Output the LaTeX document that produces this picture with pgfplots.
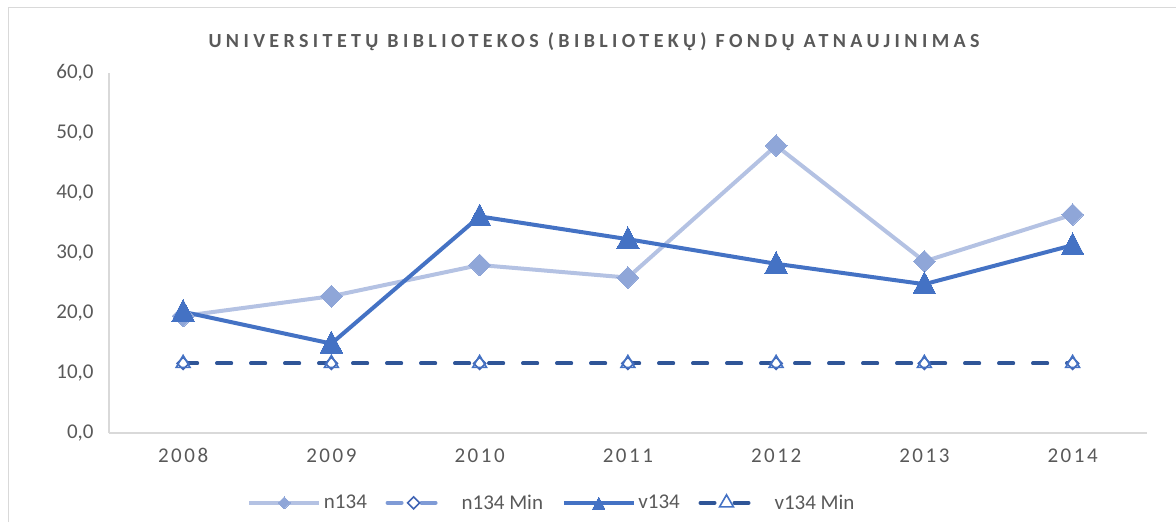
\documentclass[border=0pt]{standalone}
\usepackage{pgfplots}
\pgfplotsset{compat=1.18}
\usepackage{fontspec}
\setmainfont{Carlito}
\definecolor{nline}{HTML}{B4C2E3}
\definecolor{nmark}{HTML}{8FA6D8}
\definecolor{vblue}{HTML}{4472C4}
\definecolor{nmin}{HTML}{7F9BD6}
\definecolor{nminmark}{HTML}{4064B4}
\definecolor{vmin}{HTML}{2F5597}
\definecolor{txt}{HTML}{595959}
\definecolor{axl}{HTML}{D9D9D9}
\pgfplotsset{
  solidleg/.style={legend image code/.code={\draw[mark repeat=2,mark phase=2,##1, every mark/.append style={scale=0.55}] plot coordinates {(0pt,0pt) (26.25pt,0pt) (52.5pt,0pt)};}},
  dashleg/.style={legend image code/.code={\draw[mark repeat=2,mark phase=2,##1] plot coordinates {(0pt,0pt) (19.5pt,0pt) (39pt,0pt)};}},
}
\begin{document}
\begin{tikzpicture}[x=0.75pt,y=0.75pt]
\useasboundingbox (0,0) rectangle (1176,522);
\draw[axl, line width=0.75pt] (8,0) -- (8,514) -- (1176,514);
\node[txt, font=\fontsize{15}{17}\selectfont\bfseries\addfontfeature{LetterSpace=22}] at (594,480) {UNIVERSITETŲ BIBLIOTEKOS (BIBLIOTEKŲ) FONDŲ ATNAUJINIMAS};
\begin{axis}[
  at={(109pt*0.75,89pt*0.75)}, anchor=south west,
  scale only axis, width=778.3pt, height=270pt,
  xmin=-0.5, xmax=6.5, ymin=0, ymax=60,
  xtick={0,...,6}, xticklabels={2008,2009,2010,2011,2012,2013,2014},
  ytick={0,10,...,60},
  axis x line*=bottom, axis y line*=left,
  axis line style={axl, line width=1pt, -},
  major tick length=0pt,
  tick label style={txt, font=\fontsize{15.75}{18}\selectfont},
  xticklabel style={font=\fontsize{15.75}{18}\selectfont\addfontfeature{LetterSpace=12}, yshift=-8pt},
  yticklabel style={xshift=-8pt},
  yticklabel={\pgfmathprintnumber[fixed,fixed zerofill,precision=1,use comma,assume math mode=true]{\tick}},
  legend columns=4,
  legend style={at={(0.133,-0.194)}, anchor=west, draw=none, fill=none, inner sep=0pt,
    font=\fontsize{15.75}{18}\selectfont, text=txt,
    /tikz/every even column/.append style={column sep=12pt},
    /tikz/every odd column/.append style={column sep=0pt}},
  clip=false,
]
\addplot[nline, line width=3pt, mark=square*, mark size=5.8pt,
  mark options={rotate=45, fill=nmark, draw=nmark, line width=0pt}, solidleg]
  coordinates {(0,19.5) (1,22.8) (2,28.0) (3,25.9) (4,47.9) (5,28.6) (6,36.4)};
\addlegendentry{n134}
\addplot[nmin, line width=3pt, line cap=round, dash pattern=on 10.5pt off 15pt, mark=square*, mark size=3.2pt,
  mark options={solid, rotate=45, fill=white, draw=nminmark, line width=1.2pt}, dashleg]
  coordinates {(0,11.6) (1,11.6) (2,11.6) (3,11.6) (4,11.6) (5,11.6) (6,11.6)};
\addlegendentry{\hspace{13pt}n134 Min}
\addplot[vblue, line width=3pt, mark=triangle*, mark size=9.8pt,
  mark options={yscale=1.12, yshift=-1.5pt, fill=vblue, draw=vblue, line width=0pt}, solidleg]
  coordinates {(0,20.2) (1,14.9) (2,36.1) (3,32.3) (4,28.2) (5,24.8) (6,31.3)};
\addlegendentry{v134}
\addplot[vmin, line width=3pt, line cap=round, dash pattern=on 10.5pt off 15pt, mark=triangle, mark size=6pt,
  mark options={solid, draw=vblue, line width=1.2pt}, dashleg]
  coordinates {(0,11.6) (1,11.6) (2,11.6) (3,11.6) (4,11.6) (5,11.6) (6,11.6)};
\addlegendentry{\hspace{13pt}v134 Min}
\end{axis}
\end{tikzpicture}
\end{document}
